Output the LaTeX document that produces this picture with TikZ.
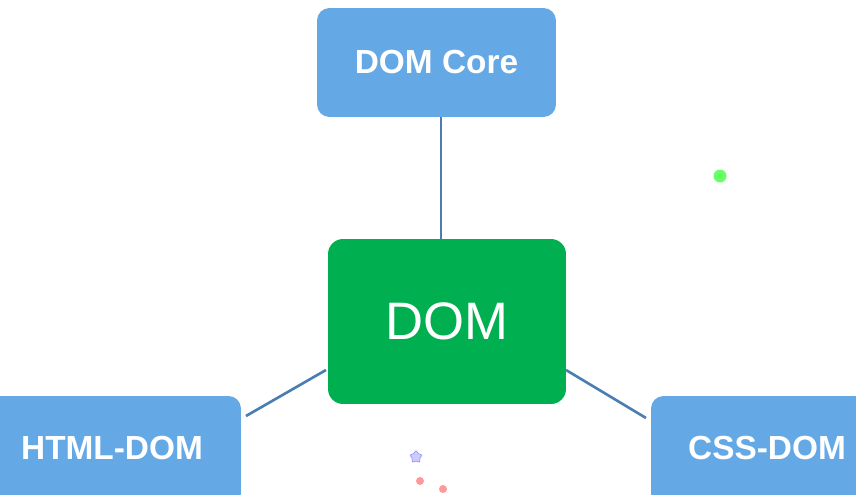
\documentclass[tikz,border=0pt]{standalone}
\usepackage{fontspec}
\setmainfont{Liberation Sans}
\usetikzlibrary{positioning,shapes.geometric}
\definecolor{boxblue}{HTML}{64A8E6}
\definecolor{domgreen}{HTML}{00AF50}
\definecolor{linkblue}{HTML}{4A7EB0}
\tikzset{
    sub/.style={ % outer boxes
        fill=boxblue, rounded corners=2.5mm, text=white,
        font=\fontsize{19}{22}\selectfont\bfseries
    },
    link/.style={linkblue, line width=1.5pt},
}
\begin{document}
\begin{tikzpicture}[x=0.02cm,y=-0.02cm]
    \useasboundingbox (0,0) rectangle (856,494);
    \node[sub, minimum width=4.78cm, minimum height=2.18cm] (core) at (436.5,62.5) {DOM Core};
    \node[fill=domgreen, rounded corners=3mm, text=white, minimum width=4.76cm,
          minimum height=3.3cm, font=\fontsize{30}{34}\selectfont] (dom) at (447,321.5) {DOM};
    \node[sub, minimum width=5.2cm, minimum height=2.2cm, text depth=0pt] (html) at (111,451) {};
    \node[font=\fontsize{19}{22}\selectfont\bfseries, text=white] (htmltxt) at (112,448) {HTML-DOM};
    \node[sub, minimum width=4.8cm, minimum height=2.2cm] (css) at (771,451) {};
    \node[font=\fontsize{19}{22}\selectfont\bfseries, text=white] (csstxt) at (767,448) {CSS-DOM};
    % connectors
    \coordinate (h1) at (246,416);
    \coordinate (h2) at (326,370);
    \coordinate (c1) at (566,370);
    \coordinate (c2) at (646,418);
    \draw[link] (core.south -| 441,0) -- (dom.north -| 441,0);
    \draw[link] (h1) -- (h2);
    \draw[link] (c1) -- (c2);
    % specks
    \fill[green!60!white] (720,176) circle (0.13cm);
    \node[star, star points=5, draw=blue!40, fill=blue!20, inner sep=0pt,
          minimum size=0.25cm] (st) at (416,457) {};
    \fill[red!40] (420,481) circle (0.08cm) (443,489) circle (0.08cm);
\end{tikzpicture}
\end{document}
